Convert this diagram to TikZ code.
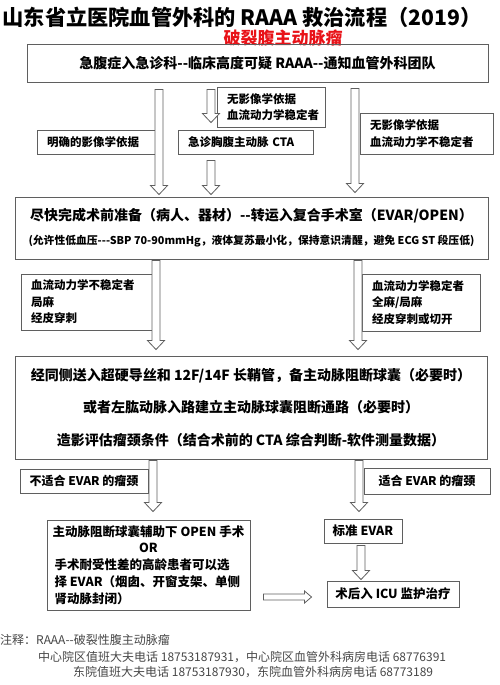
\documentclass[tikz,border=0pt]{standalone}
\usepackage{fontspec}
\setmainfont{Noto Sans CJK SC}[Ligatures=TeXOff]
\usepackage{tikz}
\usetikzlibrary{calc}
\definecolor{boxline}{RGB}{95,95,95}
\definecolor{titlered}{RGB}{232,18,24}
\definecolor{notegray}{RGB}{70,70,70}
\tikzstyle{box}=[draw=boxline, line width=0.9pt, inner sep=0pt]
\tikzstyle{hdown}=[draw=boxline, line width=0.8pt, fill=white,
  to path={let \p1=(\tikztostart), \p2=(\tikztotarget) in
    (\x1-4pt,\y1) -- (\x1-4pt,\y2+9pt) -- (\x1-8.5pt,\y2+9pt) -- (\x1,\y2)
    -- (\x1+8.5pt,\y2+9pt) -- (\x1+4pt,\y2+9pt) -- (\x1+4pt,\y1) -- cycle}]
\tikzstyle{hright}=[draw=boxline, line width=0.8pt, fill=white,
  to path={let \p1=(\tikztostart), \p2=(\tikztotarget) in
    (\x1,\y1+3pt) -- (\x2-7pt,\y1+3pt) -- (\x2-7pt,\y1+6pt) -- (\x2,\y1)
    -- (\x2-7pt,\y1-6pt) -- (\x2-7pt,\y1-3pt) -- (\x1,\y1-3pt) -- cycle}]

\begin{document}
\begin{tikzpicture}[x=1pt,y=-1pt,
    mainbox/.style={box,align=center,font=\fontsize{14}{32.5}\selectfont\bfseries},
    side/.style={box,align=left,inner xsep=10pt,font=\fontsize{11.5}{16.5}\selectfont\bfseries},
    small/.style={box,align=center,font=\fontsize{12.5}{15}\selectfont\bfseries},
    note/.style={anchor=west,inner sep=0pt,text=notegray,font=\fontsize{12}{14}\selectfont}]
  \useasboundingbox (0,0) rectangle (500,685);

  % title
  \node [font=\fontsize{21.2}{24}\selectfont\bfseries] (title) at (242,17)
        {山东省立医院血管外科的 RAAA 救治流程（2019）};
  \node [font=\fontsize{17}{20}\selectfont\bfseries,text=titlered] (sub) at (283,38)
        {破裂腹主动脉瘤};

  % boxes
  \node [mainbox,minimum width=461pt,minimum height=38pt] (start) at (257.5,63)
        {急腹症入急诊科--临床高度可疑 RAAA--通知血管外科团队};
  \node [side,text width=98pt,minimum height=24pt] (img) at (96,142) {明确的影像学依据};
  \node [side,text width=88pt,minimum height=40pt] (stable) at (271,107)
        {无影像学依据\\血流动力学稳定者};
  \node [side,text width=115pt,minimum height=24pt] (cta) at (245.5,142) {急诊胸腹主动脉 CTA};
  \node [side,text width=113pt,minimum height=41pt] (unstable) at (426.5,133.5)
        {无影像学依据\\血流动力学不稳定者};
  \node [mainbox,font=\fontsize{14}{24}\selectfont\bfseries,minimum width=473pt,minimum height=62pt] (prep) at (251.5,228)
        {尽快完成术前准备（病人、器材）--转运入复合手术室（EVAR/OPEN）\\
         {\fontsize{10.8}{13}\selectfont (允许性低血压---SBP 70-90mmHg，液体复苏最小化，保持意识清醒，避免 ECG ST 段压低)}};
  \node [side,text width=111pt,minimum height=56pt] (lunst) at (86.5,302)
        {血流动力学不稳定者\\局麻\\经皮穿刺};
  \node [side,text width=98pt,minimum height=57pt] (rst) at (421,302.5)
        {血流动力学稳定者\\全麻/局麻\\经皮穿刺或切开};
  \node [mainbox,minimum width=472pt,minimum height=103pt] (access) at (251,407.5)
        {经同侧送入超硬导丝和 12F/14F 长鞘管，备主动脉阻断球囊（必要时）\\
         或者左肱动脉入路建立主动脉球囊阻断通路（必要时）\\
         造影评估瘤颈条件（结合术前的 CTA 综合判断-软件测量数据）};
  \node [small,font=\fontsize{12}{15}\selectfont\bfseries,minimum width=128pt,minimum height=24pt] (unfit) at (84,481)
        {不适合 EVAR 的瘤颈};
  \node [small,font=\fontsize{12}{15}\selectfont\bfseries,minimum width=126pt,minimum height=26pt] (fit) at (427,481)
        {适合 EVAR 的瘤颈};
  \node [box,align=left,minimum width=203pt,minimum height=90pt,
         font=\fontsize{12.5}{16.8}\selectfont\bfseries] (open) at (148.5,565)
        {\makebox[188pt]{主动脉阻断球囊辅助下 OPEN 手术}\\
         \makebox[188pt]{OR}\\
         手术耐受性差的高龄患者可以选\\择 EVAR（烟囱、开窗支架、单侧\\肾动脉封闭）};
  \node [small,minimum width=78pt,minimum height=24pt] (evar) at (363,531) {标准 EVAR};
  \node [small,minimum width=132pt,minimum height=26pt] (icu) at (393,594) {术后入 ICU 监护治疗};

  % arrow columns
  \coordinate (c1) at (159,0);
  \coordinate (c2) at (211,0);
  \coordinate (c3) at (355,0);
  \coordinate (c4) at (156,0);
  \coordinate (c5) at (358,0);
  \coordinate (c6) at (153,0);
  \coordinate (c7) at (359,0);
  \coordinate (c8) at (361,0);

  \path ($(start.south -| c1)+(0,7)$) edge [hdown] ($(prep.north -| c1)+(0,-2)$)
        ($(start.south -| c2)+(0,7)$) edge [hdown] ($(cta.north -| c2)+(0,-7)$)
        ($(cta.south -| c2)+(0,6)$)   edge [hdown] ($(prep.north -| c2)+(0,-2)$)
        ($(start.south -| c3)+(0,6)$) edge [hdown] ($(prep.north -| c3)+(0,-4)$)
        ($(prep.south -| c4)+(0,1)$)  edge [hdown] ($(access.north -| c4)+(0,-6)$)
        ($(prep.south -| c5)+(0,1)$)  edge [hdown] ($(access.north -| c5)+(0,-6)$)
        ($(access.south -| c6)+(0,1)$) edge [hdown] ($(open.north -| c6)+(0,-8)$)
        ($(access.south -| c7)+(0,1)$) edge [hdown] ($(evar.north -| c7)+(0,-7)$)
        ($(evar.south -| c8)+(0,2)$)  edge [hdown] ($(icu.north -| c8)+(0,-1)$)
        ($(open.east |- icu.west)+(13,3)$) edge [hright] ($(icu.west)+(-15,3)$);

  % notes
  \node [note] (n1) at (0,640) {注释：RAAA--破裂性腹主动脉瘤};
  \node [note] (n2) at (38,657) {中心院区值班大夫电话 18753187931，中心院区血管外科病房电话 68776391};
  \node [note] (n3) at (73,672) {东院值班大夫电话 18753187930，东院血管外科病房电话 68773189};
\end{tikzpicture}
\end{document}
